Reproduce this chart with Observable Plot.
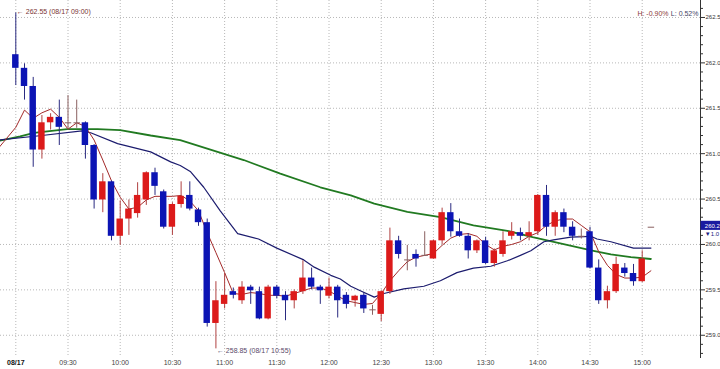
<!DOCTYPE html>
<html>
<head>
<meta charset="utf-8">
<script src="https://cdn.jsdelivr.net/npm/d3@7"></script>
<script src="https://cdn.jsdelivr.net/npm/@observablehq/plot@0.6"></script>
<style>
html, body { margin: 0; padding: 0; background: #fff; }
#chart { width: 720px; height: 369px; overflow: hidden; }
#chart svg { display: block; }
</style>
</head>
<body>
<div id="chart"></div>
<script>
// 5-minute bars, 08/17 09:00 .. 15:05
const times = ["09:00","09:05","09:10","09:15","09:20","09:25","09:30","09:35","09:40","09:45","09:50","09:55",
  "10:00","10:05","10:10","10:15","10:20","10:25","10:30","10:35","10:40","10:45","10:50","10:55",
  "11:00","11:05","11:10","11:15","11:20","11:25","11:30","11:35","11:40","11:45","11:50","11:55",
  "12:00","12:05","12:10","12:15","12:20","12:25","12:30","12:35","12:40","12:45","12:50","12:55",
  "13:00","13:05","13:10","13:15","13:20","13:25","13:30","13:35","13:40","13:45","13:50","13:55",
  "14:00","14:05","14:10","14:15","14:20","14:25","14:30","14:35","14:40","14:45","14:50","14:55",
  "15:00","15:05"];
const opens = [262.09,261.94,261.74,261.04,261.34,261.40,261.34,261.34,261.34,261.09,
  260.49,260.69,260.09,260.28,260.34,260.49,260.79,260.58,260.19,260.44,
  260.54,260.38,260.24,259.13,259.34,259.48,259.38,259.53,259.48,259.18,
  259.53,259.44,259.38,259.48,259.63,259.53,259.43,259.53,259.44,259.38,
  259.44,259.28,259.23,259.48,260.04,259.83,259.89,259.88,259.84,260.04,
  260.35,260.14,260.09,259.93,260.04,259.79,259.89,260.09,260.13,260.09,
  260.14,260.54,260.19,260.35,260.19,260.09,260.14,259.74,259.38,259.48,
  259.74,259.68,259.59,260.19];
const highs = [262.55,261.99,261.84,261.42,261.44,261.59,261.64,261.59,261.35,261.10,
  260.78,260.70,260.48,260.49,260.68,260.80,260.84,260.60,260.46,260.69,
  260.69,260.40,260.28,259.59,259.68,259.52,259.59,259.55,259.53,259.55,
  259.55,259.48,259.50,259.82,259.74,259.55,259.63,259.55,259.47,259.44,
  259.47,259.33,259.49,260.18,260.09,259.99,259.94,260.14,260.05,260.40,
  260.45,260.28,260.12,260.05,260.08,259.95,260.14,260.24,260.18,260.25,
  260.55,260.65,260.37,260.39,260.25,260.17,260.19,259.83,259.54,259.86,
  259.79,259.78,259.93,260.19];
const lows = [261.75,261.59,260.85,260.94,261.26,261.09,261.26,261.28,260.94,260.39,
  260.35,260.04,259.99,260.10,260.29,260.43,260.54,260.17,260.10,260.40,
  260.37,260.20,259.09,258.85,259.29,259.40,259.34,259.34,259.17,259.17,
  259.40,259.16,259.29,259.45,259.50,259.34,259.40,259.19,259.29,259.31,
  259.24,259.22,259.15,259.45,259.84,259.71,259.75,259.87,259.84,260.00,
  260.08,260.08,259.84,259.90,259.78,259.75,259.86,260.05,260.04,260.04,
  260.10,260.09,260.09,260.13,260.04,260.06,259.73,259.34,259.29,259.46,
  259.64,259.54,259.58,260.19];
const closes = [261.94,261.74,261.04,261.34,261.40,261.29,261.34,261.34,261.09,260.49,
  260.69,260.09,260.28,260.39,260.54,260.79,260.64,260.19,260.44,260.53,
  260.39,260.24,259.13,259.38,259.44,259.44,259.53,259.49,259.18,259.53,
  259.43,259.38,259.48,259.63,259.53,259.49,259.53,259.38,259.34,259.43,
  259.29,259.28,259.48,260.04,259.89,259.83,259.84,259.88,260.04,260.35,
  260.14,260.09,259.93,260.04,259.79,259.93,260.04,260.14,260.09,260.13,
  260.54,260.19,260.35,260.19,260.09,260.09,259.74,259.38,259.48,259.78,
  259.68,259.59,259.84,260.19];

// moving averages: [bar position, value]
const maShort = [[-2,261.06],[0,261.29],[1,261.48],[2,261.39],[3,261.45],[4,261.49],[5,261.40],[6,261.27],[7,261.34],[8,261.30],
  [9,261.15],[10,260.93],[11,260.70],[12,260.52],[13,260.39],[14,260.41],[15,260.49],[16,260.53],[17,260.53],[18,260.53],
  [19,260.54],[20,260.48],[21,260.37],[22,260.13],[23,259.91],[24,259.69],[25,259.46],[26,259.45],[27,259.47],[28,259.46],
  [29,259.44],[30,259.44],[31,259.43],[32,259.46],[33,259.49],[34,259.52],[35,259.52],[36,259.49],[37,259.43],[38,259.38],
  [39,259.36],[40,259.34],[41,259.35],[42,259.46],[43,259.60],[44,259.71],[45,259.81],[46,259.86],[47,259.88],[48,259.90],
  [49,259.99],[50,260.07],[51,260.11],[52,260.12],[53,260.09],[54,260.00],[55,259.94],[56,259.98],[57,260.00],[58,260.03],
  [59,260.09],[60,260.13],[61,260.21],[62,260.26],[63,260.28],[64,260.28],[65,260.21],[66,260.14],[67,259.92],[68,259.77],
  [69,259.67],[70,259.63],[71,259.63],[72,259.64],[73,259.71]];
const maMid = [[-2,261.15],[3.0,261.20],[7.6,261.25],[8.6,261.23],[11.7,261.11],[15.5,261.02],[17.8,260.91],[18.9,260.87],
  [20.1,260.80],[21.6,260.63],[23.5,260.37],[25.5,260.12],[27.9,260.06],[30.0,259.96],[33.1,259.83],[34.3,259.75],
  [36.2,259.66],[37.3,259.62],[38.5,259.54],[39.6,259.49],[41.2,259.42],[42.3,259.46],[44.6,259.51],[46.9,259.54],
  [48.8,259.60],[50.7,259.69],[52.6,259.74],[54.6,259.76],[56.5,259.82],[58.0,259.88],[59.2,259.93],[60.7,260.03],
  [61.8,260.05],[63.8,260.08],[66.1,260.09],[66.8,260.06],[68.4,260.03],[71.0,259.96],[73.0,259.96]];
const maLong = [[-2,261.14],[0.5,261.19],[2.1,261.23],[5.9,261.27],[9.4,261.27],[12.0,261.26],[15.5,261.20],[18.9,261.15],
  [26.2,260.93],[30.4,260.78],[35.0,260.63],[38.5,260.54],[41.2,260.45],[45.0,260.36],[48.8,260.30],[52.6,260.21],
  [56.5,260.15],[59.4,260.08],[66.4,259.93],[68.4,259.89],[70.7,259.86],[73.0,259.84]];

const tickIdx = [0,6,12,18,24,30,36,42,48,54,60,66,72];
const tickLabels = ["08/17","09:30","10:00","10:30","11:00","11:30","12:00","12:30","13:00","13:30","14:00","14:30","15:00"];
const yTicks = [259.0,259.5,260.0,260.5,261.0,261.5,262.0,262.5];
const yMinor = [258.8,258.9,259.1,259.2,259.3,259.4,259.6,259.7,259.8,259.9,260.1,260.2,260.3,260.4,260.6,260.7,260.8,260.9,
  261.1,261.2,261.3,261.4,261.6,261.7,261.8,261.9,262.1,262.2,262.3,262.4,262.6];
const highNote = {i: 0, v: 262.55, text: "← 262.55 (08/17 09:00)"};
const lowNote = {i: 23, v: 258.85, text: "← 258.85 (08/17 10:55)"};
const rangeTexts = ["H: -0.90%", "L: 0.52%"];
const lastPrice = 260.20;
const lastPriceText = "260.2";
const lastChangeText = "▼1.0";

const rows = opens.map((o, i) => ({i, t: times[i], o, h: highs[i], l: lows[i], c: closes[i]}));
const dir = d => d.c > d.o ? "up" : d.c < d.o ? "down" : "flat";
const bodyColor = {up: "#dc1a1a", down: "#0c14b4", flat: "#8a5050"};
const wickColor = {up: "#b04040", down: "#2a2a80", flat: "#8a6060"};
const xMax = 78.7;
const half = 0.37;
const font = "'Liberation Sans', Arial, sans-serif";

const chart = Plot.plot({
  width: 720,
  height: 369,
  marginTop: 0,
  marginBottom: 12,
  marginLeft: 0,
  marginRight: 20,
  x: {type: "linear", domain: [-1.76, xMax], axis: null},
  y: {type: "linear", domain: [258.755, 262.687], axis: null},
  color: {type: "identity"},
  style: {fontFamily: font, fontSize: "7px", background: "#ffffff", overflow: "hidden"},
  marks: [
    Plot.ruleY(yTicks, {stroke: "#b8b8b8", strokeDasharray: "1,2"}),
    Plot.ruleX(tickIdx, {stroke: "#b8b8b8", strokeDasharray: "1,2"}),
    Plot.line(maLong, {x: d => d[0], y: d => d[1], stroke: "#217a21", strokeWidth: 1.8, clip: true}),
    Plot.line(maMid, {x: d => d[0], y: d => d[1], stroke: "#1c1c6e", strokeWidth: 1.2, clip: true}),
    Plot.line(maShort, {x: d => d[0], y: d => d[1], stroke: "#a32a2a", strokeWidth: 1, clip: true}),
    Plot.ruleX(rows, {x: "i", y1: "l", y2: "h", stroke: d => wickColor[dir(d)], strokeWidth: 1}),
    Plot.rect(rows.filter(d => dir(d) !== "flat"), {
      x1: d => d.i - half, x2: d => d.i + half, y1: "o", y2: "c",
      fill: d => bodyColor[dir(d)]
    }),
    Plot.link(rows.filter(d => dir(d) === "flat"), {
      x1: d => d.i - half, x2: d => d.i + half, y1: "c", y2: "c",
      stroke: d => wickColor[dir(d)], strokeWidth: 1
    }),
    Plot.frame({anchor: "right", stroke: "#333"}),
    Plot.axisY({anchor: "right", ticks: yMinor, tickSize: 2, tickFormat: () => "", stroke: "#333"}),
    Plot.axisY({anchor: "right", ticks: yTicks, tickSize: 4, tickPadding: 1, tickFormat: d => d.toFixed(1),
      fontSize: 6, fill: "#333", stroke: "#333"}),
    // bottom time labels
    Plot.text(tickIdx.slice(0, 1), {x: d => d, frameAnchor: "bottom", dy: 7, text: (d, i) => tickLabels[0],
      fontSize: 7, fontWeight: "bold", fill: "#111"}),
    Plot.text(tickIdx.slice(1), {x: d => d, frameAnchor: "bottom", dy: 7, text: (d, i) => tickLabels[i + 1],
      fontSize: 7, fill: "#444"}),
    // high / low annotations
    Plot.text([highNote], {x: "i", y: "v", text: "text", textAnchor: "start", dx: 1, dy: -1, fontSize: 7, fill: "#7a3434"}),
    Plot.text([lowNote], {x: "i", y: "v", text: "text", textAnchor: "start", dx: 1, dy: 2, fontSize: 7, fill: "#5a4a6a"}),
    // range info top right
    Plot.text([rangeTexts[0]], {frameAnchor: "top-right", text: d => d, textAnchor: "end", dx: -32, dy: 11,
      fontSize: 7, fill: "#8b3a3a"}),
    Plot.text([rangeTexts[1]], {frameAnchor: "top-right", text: d => d, textAnchor: "end", dx: -2, dy: 11,
      fontSize: 7, fill: "#444466"}),
    // last price marker
    Plot.rect([lastPrice], {x1: xMax + 0.06, x2: xMax + 2.3, y1: d => d - 0.045, y2: d => d + 0.055,
      fill: "#1a1aa0", clip: false}),
    Plot.text([lastPrice], {x: xMax + 0.5, y: d => d + 0.005, text: () => lastPriceText, textAnchor: "start",
      fontSize: 6, fill: "#ffffff", clip: false}),
    Plot.text([lastPrice], {x: xMax + 0.5, y: d => d - 0.085, text: () => lastChangeText, textAnchor: "start",
      fontSize: 6, fill: "#1a1a80", clip: false})
  ]
});
document.getElementById("chart").appendChild(chart);
</script>
</body>
</html>
